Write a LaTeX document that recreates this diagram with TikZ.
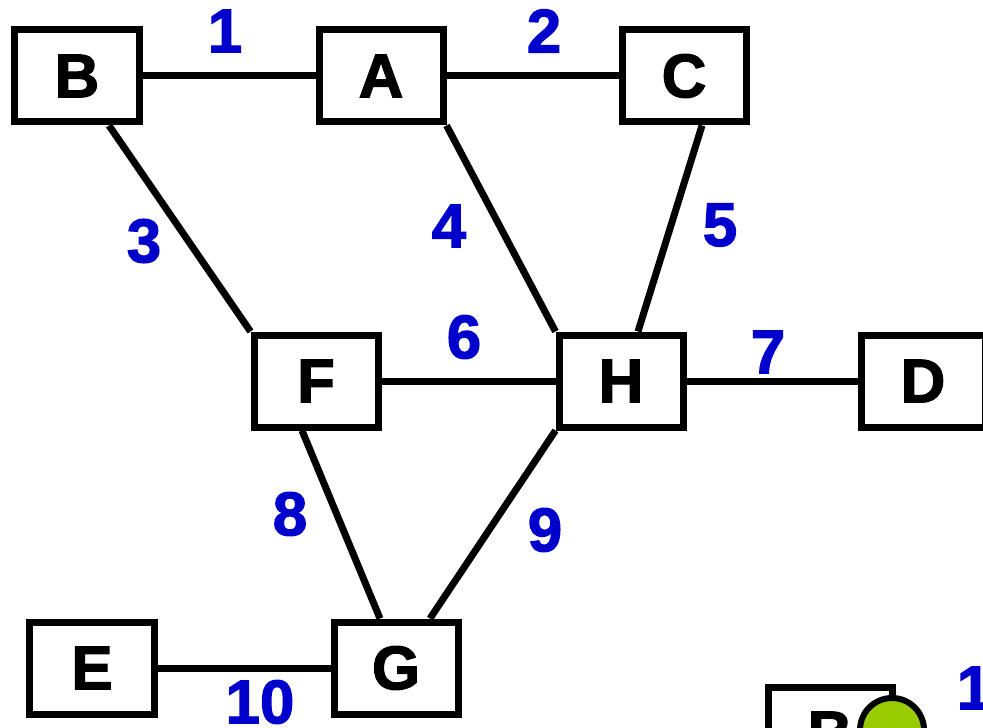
\documentclass[tikz,border=0pt]{standalone}
\usepackage{fontspec}
\setmainfont{Liberation Sans}[BoldFeatures={FakeBold=2}]
\usepackage{xcolor}
\usetikzlibrary{positioning}
\definecolor{wblue}{HTML}{0000CC}
\definecolor{lgreen}{HTML}{99CC00}
\tikzset{
	vertex/.style = {draw, rectangle, line width=7bp, minimum width=124bp, minimum height=92bp, inner sep=0pt, fill=white, font=\fontsize{62}{62}\selectfont\bfseries},
	weight/.style = {text=wblue, inner sep=0pt, font=\fontsize{62}{62}\selectfont\bfseries},
	link/.style = {line width=7bp}
}
\begin{document}
\begin{tikzpicture}[x=1bp, y=-1bp]
			\useasboundingbox (0,0) rectangle (983,728);
			\clip (0,0) rectangle (983,728);
			
			% the vertices of the graph
			\node[vertex] (B) at (77,76) {B};
			\node[vertex] (A) at (381,76) {A};
			\node[vertex] (C) at (684,76) {C};
			\node[vertex] (F) at (316,381) {F};
			\node[vertex] (H) at (621,381) {H};
			\node[vertex] (D) at (923,381) {D};
			\node[vertex] (E) at (92,668) {E};
			\node[vertex] (G) at (396,668) {G};
			\node[vertex] (B2) at (830,733) {B};
			
			% the edges
			\draw[link] (B.east) -- (A.west);
			\draw[link] (A.east) -- (C.west);
			\draw[link] ([xshift=32bp]B.south) -- (F.north west);
			\draw[link] (A.south east) -- (H.north west);
			\draw[link] ([xshift=18bp]C.south) -- ([xshift=17bp]H.north);
			\draw[link] (F.east) -- (H.west);
			\draw[link] (H.east) -- (D.west);
			\draw[link] ([xshift=-14bp]F.south) -- ([xshift=-16bp]G.north);
			\draw[link] (H.south west) -- ([xshift=34bp]G.north);
			\draw[link] (E.east) -- (G.west);
			
			% the marker on the lower box
			\node[circle, draw, line width=6bp, fill=lgreen, minimum size=64bp, inner sep=0pt] (m) at (892,730) {};
			
			% the weights
			\node[weight] (w1) at (225,31) {1};
			\node[weight] (w2) at (544,31) {2};
			\node[weight] (w3) at (144,241) {3};
			\node[weight] (w4) at (449,226) {4};
			\node[weight] (w5) at (720,225) {5};
			\node[weight] (w6) at (464,337) {6};
			\node[weight] (w7) at (768,352) {7};
			\node[weight] (w8) at (290,514) {8};
			\node[weight] (w9) at (545,530) {9};
			\node[weight] (w10) at (260,702) {10};
			\node[weight] (w11) at (974,688) {1};
		\end{tikzpicture}
\end{document}
